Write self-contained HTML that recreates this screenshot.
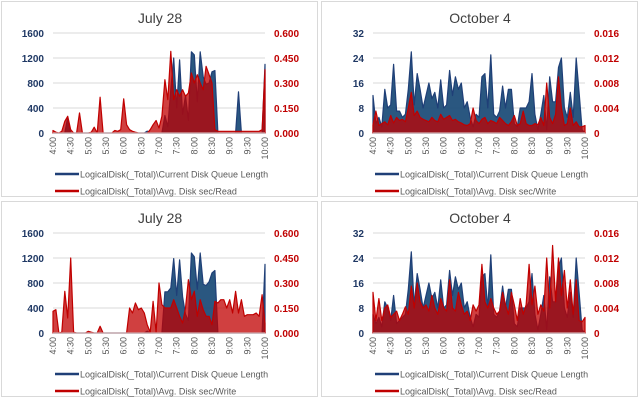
<!DOCTYPE html>
<html><head><meta charset="utf-8">
<style>
html,body{margin:0;padding:0;background:#fff;}
svg{display:block;font-family:"Liberation Sans",sans-serif;}
</style></head>
<body>
<svg id="root" width="640" height="400" viewBox="0 0 640 400"></svg>
<script>
const timeLabels=["4:00","4:30","5:00","5:30","6:00","6:30","7:00","7:30","8:00","8:30","9:00","9:30","10:00"];
const julyQueueA=[0,0,0,0,0,250,0,0,0,0,0,0,0,0,0,0,0,0,0,0,0,0,0,0,0,0,0,0,0,0,0,0,30,0,0,0,0,0,280,100,700,1200,400,1170,300,600,200,1300,1250,500,1300,900,780,800,980,1000,0,0,0,0,0,0,0,660,0,0,0,0,0,0,0,0,1100];
const julyReadA=[0.015,0.005,0,0.01,0.07,0.1,0.02,0,0,0.12,0,0,0,0.005,0.035,0,0.215,0,0,0,0,0.015,0.01,0.02,0.205,0.05,0.02,0.01,0.005,0,0,0,0,0.02,0.05,0.075,0.03,0.1,0.32,0.2,0.49,0.2,0.26,0.22,0.26,0.22,0.24,0.36,0.3,0.35,0.3,0.26,0.4,0.35,0.3,0.02,0.01,0.01,0.01,0.01,0.01,0.01,0.01,0.01,0.01,0.01,0.01,0.01,0.01,0.01,0.01,0.02,0.38];
const octQueueB=[12,3,5,2,14,8,9,22,7,7,5,6,14,26,9,19,14,8,12,16,11,13,8,17,8,9,20,12,18,14,16,8,10,5,2,6,5,18,19,8,25,6,5,7,15,8,14,14,3,2,8,8,8,10,19,6,1,6,12,1,18,10,10,21,24,8,5,13,5,24,13,1,0];
const octWriteB=[0.0013,0.0035,0.0012,0.0015,0.0018,0.0013,0.0028,0.0016,0.0025,0.002,0.0022,0.0018,0.004,0.0065,0.0028,0.0035,0.0025,0.0022,0.002,0.0018,0.0025,0.002,0.0018,0.003,0.0022,0.0025,0.0028,0.002,0.0022,0.0018,0.0016,0.0013,0.0012,0.0015,0.004,0.002,0.0015,0.0022,0.0025,0.0015,0.002,0.0018,0.0015,0.0025,0.002,0.0015,0.0012,0.0018,0.0028,0.0012,0.0015,0.0035,0.0015,0.0012,0.0012,0.0015,0.0013,0.0025,0.0012,0.008,0.0025,0.0015,0.003,0.009,0.004,0.0012,0.0015,0.004,0.0012,0.0018,0.001,0.001,0.0012];
const julyQueueC=[0,0,0,0,0,0,0,0,0,0,0,0,0,0,0,0,0,0,0,0,0,0,0,0,0,0,0,0,0,0,0,0,30,0,0,0,0,0,660,660,720,1190,600,1170,580,300,200,1280,1220,700,1280,780,760,820,960,1000,0,0,0,0,0,0,0,0,0,0,0,0,0,0,0,0,1100];
const julyWriteC=[0.13,0.14,0,0.005,0.25,0.09,0.45,0.005,0,0,0,0,0.01,0.005,0,0,0.04,0,0,0,0,0,0,0,0,0,0.15,0.12,0.18,0.14,0.15,0.12,0.05,0.005,0.19,0.005,0.3,0.17,0.15,0.15,0.15,0.2,0.15,0.1,0.06,0.15,0.32,0.2,0.25,0.1,0.2,0.14,0.1,0.1,0.05,0.19,0.18,0.2,0.2,0.15,0.2,0.12,0.25,0.12,0.2,0.1,0.11,0.11,0.11,0.12,0.1,0.23,0.06];
const octQueueD=[6,3,5,2,10,8,4,12,3,4,5,6,14,26,9,19,14,8,12,16,11,13,8,17,8,9,20,12,18,14,16,8,10,5,2,6,5,18,19,8,25,6,5,7,15,8,14,14,3,2,8,8,8,10,19,6,1,6,12,1,18,10,10,21,24,8,5,13,5,24,13,1,0];
const octReadD=[0.0065,0.002,0.0055,0.002,0.004,0.0045,0.0025,0.003,0.0035,0.002,0.003,0.0042,0.003,0.0075,0.004,0.008,0.005,0.004,0.0045,0.0035,0.006,0.004,0.003,0.0055,0.004,0.0035,0.0085,0.004,0.0035,0.0065,0.0045,0.003,0.0035,0.002,0.0045,0.0035,0.0045,0.011,0.005,0.004,0.0055,0.004,0.003,0.0035,0.0065,0.0045,0.003,0.0065,0.0045,0.002,0.0055,0.003,0.0045,0.011,0.0045,0.0075,0.003,0.0045,0.0035,0.012,0.004,0.014,0.005,0.012,0.006,0.01,0.004,0.0085,0.003,0.0085,0.002,0.0018,0.0025];

const NS="http://www.w3.org/2000/svg";
const root=document.getElementById('root');
function mk(tag,attrs,parent){const e=document.createElementNS(NS,tag);for(const k in attrs)e.setAttribute(k,attrs[k]);(parent||root).appendChild(e);return e;}

const charts=[
 {ox:0,oy:0,title:"July 28",q:julyQueueA,r:julyReadA,qMax:1600,rMax:0.6,lt:["0","400","800","1200","1600"],rt:["0.000","0.150","0.300","0.450","0.600"],leg2:"LogicalDisk(_Total)\\Avg. Disk sec/Read",name:"july28-read-chart"},
 {ox:320,oy:0,title:"October 4",q:octQueueB,r:octWriteB,qMax:32,rMax:0.016,lt:["0","8","16","24","32"],rt:["0","0.004","0.008","0.012","0.016"],leg2:"LogicalDisk(_Total)\\Avg. Disk sec/Write",name:"oct4-write-chart"},
 {ox:0,oy:200,title:"July 28",q:julyQueueC,r:julyWriteC,qMax:1600,rMax:0.6,lt:["0","400","800","1200","1600"],rt:["0.000","0.150","0.300","0.450","0.600"],leg2:"LogicalDisk(_Total)\\Avg. Disk sec/Write",name:"july28-write-chart"},
 {ox:320,oy:200,title:"October 4",q:octQueueD,r:octReadD,qMax:32,rMax:0.016,lt:["0","8","16","24","32"],rt:["0","0.004","0.008","0.012","0.016"],leg2:"LogicalDisk(_Total)\\Avg. Disk sec/Read",name:"oct4-read-chart"}
];

charts.forEach(c=>{
 const g=mk('g',{transform:`translate(${c.ox},${c.oy})`});
 
 
 const border=mk('rect',{x:1.5,y:1.5,width:316,height:195,fill:'#fff',stroke:'#d9d9d9','stroke-width':1},g);
 
 
 const L=53,R=265,T=33,B=133;
 const xS=i=>L+(R-L)*i/72;
 const yQ=v=>B-(B-T)*v/c.qMax;
 const yR=v=>B-(B-T)*v/c.rMax;
 const t=mk('text',{x:160,y:23,'text-anchor':'middle','font-size':14,fill:'#404040'},g);
 t.textContent=c.title;
 
 
 for(let i=0;i<5;i++){
  const y=B-(B-T)*i/4;
  if(i>0){const gl=mk('line',{x1:L,x2:R,y1:y,y2:y,stroke:'#d9d9d9','stroke-width':1},g);
   
   }
  const lt=mk('text',{x:44,y:y+4,'text-anchor':'end','font-size':10,'font-weight':'bold',fill:'#1f3864'},g);
  lt.textContent=c.lt[i];
  
  
  const rt=mk('text',{x:274,y:y+4,'text-anchor':'start','font-size':10,'font-weight':'bold',fill:'#c00000'},g);
  rt.textContent=c.rt[i];
  
  
 }
 function area(vals,yf,fill,stroke,op,nm){
  let d=`M${xS(0)},${B}`;
  vals.forEach((v,i)=>{d+=` L${xS(i).toFixed(1)},${yf(v).toFixed(1)}`;});
  d+=` L${xS(vals.length-1)},${B} Z`;
  const a=mk('path',{d:d,fill:fill,'fill-opacity':op,stroke:stroke,'stroke-width':1.2,'stroke-linejoin':'round'},g);
  
  
 }
 area(c.q,yQ,'#1f4e79','#1f3f77',0.95,'queue-length-series');
 area(c.r,yR,'#c00000','#c00000',0.75,'disk-sec-series');
 const ax=mk('line',{x1:L,x2:R,y1:B,y2:B,stroke:'#d9d9d9'},g);
 
 
 timeLabels.forEach((lab,i)=>{
  const x=L+(R-L)*i/12;
  const tx=mk('text',{x:0,y:0,'text-anchor':'end','font-size':9,fill:'#595959',transform:`translate(${x+3},${B+4}) rotate(-90)`},g);
  tx.textContent=lab;
  
  
 });
 [["LogicalDisk(_Total)\\Current Disk Queue Length",'#1f3f77',174,'legend-queue-length'],[c.leg2,'#c00000',191,'legend-disk-sec']].forEach(e=>{
  const lg=mk('g',{},g);
  
  
  mk('line',{x1:55,x2:79,y1:e[2],y2:e[2],stroke:e[1],'stroke-width':2.5},lg);
  const lt=mk('text',{x:80,y:e[2]+3.5,'font-size':9,fill:'#595959'},lg);
  lt.textContent=e[0];
 });
});
</script>
</body></html>
